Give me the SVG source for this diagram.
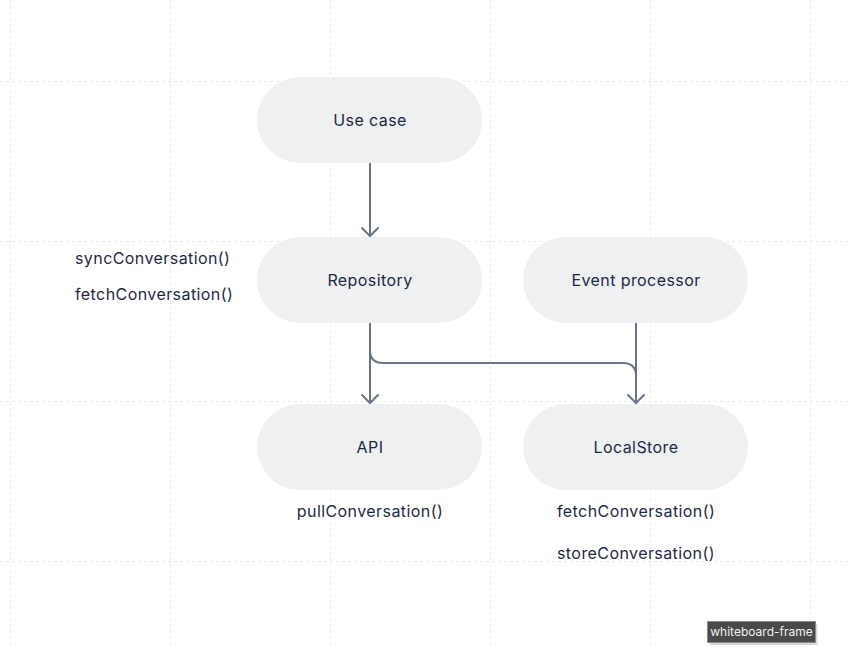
<svg xmlns="http://www.w3.org/2000/svg" width="850" height="648" viewBox="0 0 850 648">
<style>
.grid{stroke:#ebebeb;stroke-width:1;stroke-dasharray:3 3;fill:none}
.node rect{fill:#eef0f2}
.lbl{font-family:Inter,"Noto Sans","Liberation Sans",sans-serif;font-size:16px;letter-spacing:0.42px;fill:#1e2a45}
.mid{text-anchor:middle}
.edge{fill:none;stroke:#6b7489;stroke-width:2;stroke-linecap:round;stroke-linejoin:round}
</style>
<defs>
<marker id="arr" viewBox="0 0 20 20" refX="10" refY="10" markerWidth="20" markerHeight="20" markerUnits="userSpaceOnUse" orient="auto">
<path d="M2,2 L10,10 L2,18" fill="none" stroke="#6b7489" stroke-width="2" stroke-linecap="round" stroke-linejoin="round"/>
</marker>
</defs>
<rect width="850" height="648" fill="#ffffff"/>
<g id="grid">
<line class="grid" x1="10.5" y1="0" x2="10.5" y2="648"/>
<line class="grid" x1="170.5" y1="0" x2="170.5" y2="648"/>
<line class="grid" x1="330.5" y1="0" x2="330.5" y2="648"/>
<line class="grid" x1="490.5" y1="0" x2="490.5" y2="648"/>
<line class="grid" x1="650.5" y1="0" x2="650.5" y2="648"/>
<line class="grid" x1="810.5" y1="0" x2="810.5" y2="648"/>
<line class="grid" x1="0" y1="81.5" x2="850" y2="81.5"/>
<line class="grid" x1="0" y1="241.5" x2="850" y2="241.5"/>
<line class="grid" x1="0" y1="401.5" x2="850" y2="401.5"/>
<line class="grid" x1="0" y1="561.5" x2="850" y2="561.5"/>
</g>
<g id="connectors">
<path class="edge" d="M370,163 L370,236" marker-end="url(#arr)"/>
<path class="edge" d="M370,323 L370,403" marker-end="url(#arr)"/>
<path class="edge" d="M636,323 L636,403" marker-end="url(#arr)"/>
<path class="edge" d="M370,350 Q370,363 383,363 L623,363 Q636,363 636,376"/>
</g>
<g id="use-case" class="node">
<rect x="257" y="77" width="225" height="86" rx="43"/>
<text class="lbl mid" x="370" y="126">Use case</text>
</g>
<g id="repository" class="node">
<rect x="257" y="237" width="225" height="86" rx="43"/>
<text class="lbl mid" x="370" y="286">Repository</text>
</g>
<g id="event-processor" class="node">
<rect x="523" y="237" width="225" height="86" rx="43"/>
<text class="lbl mid" x="636" y="286">Event processor</text>
</g>
<g id="api" class="node">
<rect x="257" y="404" width="225" height="86" rx="43"/>
<text class="lbl mid" x="370" y="453">API</text>
</g>
<g id="localstore" class="node">
<rect x="523" y="404" width="225" height="86" rx="43"/>
<text class="lbl mid" x="636" y="453">LocalStore</text>
</g>
<g id="labels">
<text class="lbl" x="75" y="264">syncConversation()</text>
<text class="lbl" x="75" y="300">fetchConversation()</text>
<text class="lbl mid" x="370" y="517">pullConversation()</text>
<text class="lbl" x="557" y="517">fetchConversation()</text>
<text class="lbl" x="557" y="559">storeConversation()</text>
</g>
<g id="frame-tag">
<rect x="708.5" y="622.5" width="108" height="21" fill="#000" opacity="0.15" transform="translate(1,1.5)"/>
<rect x="707.5" y="621.5" width="108" height="21" fill="#4a4a4a" stroke="#8a8a8a" stroke-width="1"/>
<text x="761.5" y="636" text-anchor="middle" font-family="Inter,'Liberation Sans',sans-serif" font-size="12" fill="#f0f0f0">whiteboard-frame</text>
</g>
</svg>
